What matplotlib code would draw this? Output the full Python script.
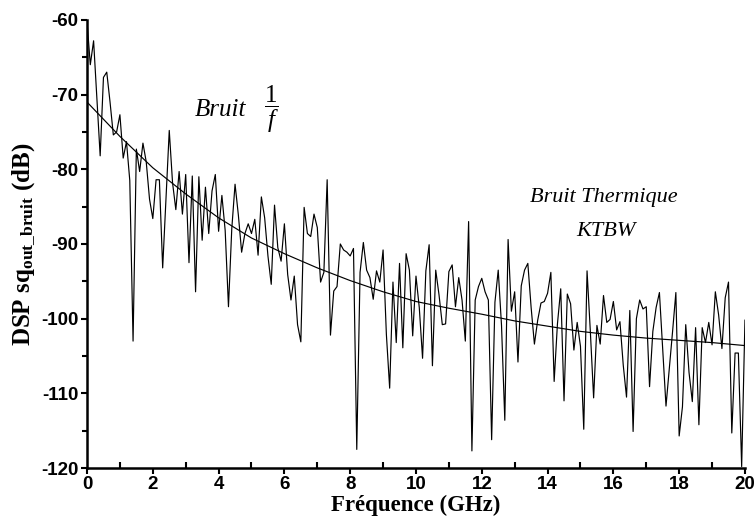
import numpy as np
import matplotlib
matplotlib.use("Agg")
import matplotlib.pyplot as plt
from matplotlib.ticker import MultipleLocator

# spectre de bruit en sortie, pas de 0.1 GHz (0 -> 20 GHz)
freq_step = 0.1
dsp_db = [
    -60.2, -66.0, -62.8, -70.5, -78.2, -67.7, -67.0, -71.0, -75.4, -75.0,
    -72.7, -78.5, -76.3, -81.5, -103.0, -77.3, -80.3, -76.5, -79.0, -84.0,
    -86.6, -81.4, -81.4, -93.2, -84.0, -74.8, -81.8, -85.4, -80.3, -86.0,
    -80.7, -92.5, -80.9, -96.4, -81.0, -89.5, -82.4, -88.6, -82.9, -80.7,
    -88.3, -83.5, -88.2, -98.4, -88.0, -82.0, -86.1, -91.1, -88.6, -87.3,
    -88.6, -86.7, -91.5, -83.7, -86.5, -91.6, -95.4, -84.8, -90.5, -92.3,
    -87.3, -94.1, -97.5, -94.3, -100.8, -103.1, -85.1, -88.6, -89.0, -86.0,
    -87.8, -95.1, -93.8, -81.4, -102.2, -96.3, -95.7, -90.0, -90.8, -91.1,
    -91.6, -90.6, -117.5, -93.8, -89.8, -93.5, -94.5, -97.4, -93.6, -95.1,
    -90.8, -102.1, -109.3, -95.1, -103.2, -92.6, -103.9, -91.3, -93.5, -102.3,
    -94.3, -98.5, -105.3, -93.6, -90.1, -106.3, -93.5, -96.8, -100.8, -100.7,
    -93.7, -92.8, -98.4, -94.5, -97.5, -103.0, -87.0, -117.7, -97.5, -95.7,
    -94.6, -96.4, -97.5, -116.2, -97.8, -93.5, -100.9, -113.6, -89.4, -99.0,
    -96.4, -105.8, -95.6, -93.5, -92.6, -98.5, -103.4, -100.2, -97.9, -97.7,
    -96.6, -93.8, -108.4, -100.7, -96.0, -111.0, -96.7, -98.0, -104.2, -100.5,
    -103.7, -114.8, -93.6, -101.7, -110.6, -100.9, -103.4, -96.9, -100.5, -100.1,
    -97.7, -101.5, -100.4, -106.2, -110.5, -98.9, -115.1, -100.0, -97.5, -98.7,
    -98.4, -109.1, -101.7, -98.5, -96.5, -104.0, -111.7, -106.7, -101.7, -96.5,
    -115.7, -111.8, -100.8, -107.2, -111.1, -101.2, -114.2, -101.2, -103.2, -100.5,
    -103.5, -96.4, -99.5, -104.0, -97.2, -95.1, -115.3, -104.6, -104.6, -119.8,
    -100.2,
]

# courbe lissée (tendance), lue tous les 1 GHz
fit_freq = [0, 1, 2, 3, 4, 5, 6, 7, 8, 9, 10, 11, 12, 13, 14, 15, 16, 17, 18, 19, 20]
fit_db = [-71.0, -75.6, -79.8, -83.3, -86.5, -89.2, -91.3, -93.2, -94.9, -96.4,
          -97.7, -98.6, -99.4, -100.3, -101.0, -101.7, -102.2, -102.6, -102.9,
          -103.2, -103.6]

freq = np.arange(len(dsp_db)) * freq_step

plt.rcParams['axes.unicode_minus'] = False
plt.rcParams['mathtext.fontset'] = 'custom'
plt.rcParams['mathtext.rm'] = 'Liberation Serif'
plt.rcParams['mathtext.it'] = 'Liberation Serif:italic'
plt.rcParams['mathtext.bf'] = 'Liberation Serif:bold'

fig = plt.figure(figsize=(7.54, 5.23), dpi=100)
ax = fig.add_axes([0.1154, 0.105, 0.8726, 0.857])

ax.plot(freq, dsp_db, color='black', lw=0.85)
ax.plot(fit_freq, fit_db, color='black', lw=0.85)

ax.set_xlim(0, 20)
ax.set_ylim(-120, -60)
ax.xaxis.set_major_locator(MultipleLocator(2))
ax.xaxis.set_minor_locator(MultipleLocator(1))
ax.yaxis.set_major_locator(MultipleLocator(10))
ax.yaxis.set_minor_locator(MultipleLocator(5))

for s in ['top', 'right']:
    ax.spines[s].set_visible(False)
for s in ['left', 'bottom']:
    ax.spines[s].set_linewidth(1.8)

ax.tick_params(axis='both', which='major', direction='out', length=4.5, width=1.5,
               pad=1.5, labelsize=13.5)
ax.tick_params(axis='y', which='minor', direction='out', length=3.5, width=1.5)
ax.tick_params(axis='x', which='minor', direction='in', length=4, width=1.5)
for lab in ax.get_xticklabels() + ax.get_yticklabels():
    lab.set_fontfamily('Liberation Sans')
    lab.set_fontweight('bold')

ax.set_xlabel('Fréquence (GHz)', fontfamily='Liberation Serif', fontweight='bold',
              fontsize=16.5, labelpad=1)
ax.set_ylabel(r'DSP sq$_{\mathbf{out\_bruit}}$ (dB)', fontfamily='Liberation Serif',
              fontweight='bold', fontsize=18, labelpad=3)

ax.text(4.05, -72.0, 'Bruit', fontfamily='Liberation Serif', style='italic',
        fontsize=18, ha='center', va='center')
ax.text(5.6, -72.0, r'$\dfrac{1}{f}$', fontsize=18, ha='center', va='center')
ax.text(15.72, -83.8, 'Bruit Thermique', fontfamily='Liberation Serif', style='italic',
        fontsize=16, ha='center', va='center')
ax.text(15.78, -88.3, 'KTBW', fontfamily='Liberation Serif', style='italic',
        fontsize=16, ha='center', va='center')

fig.savefig('out.png', dpi=100)
